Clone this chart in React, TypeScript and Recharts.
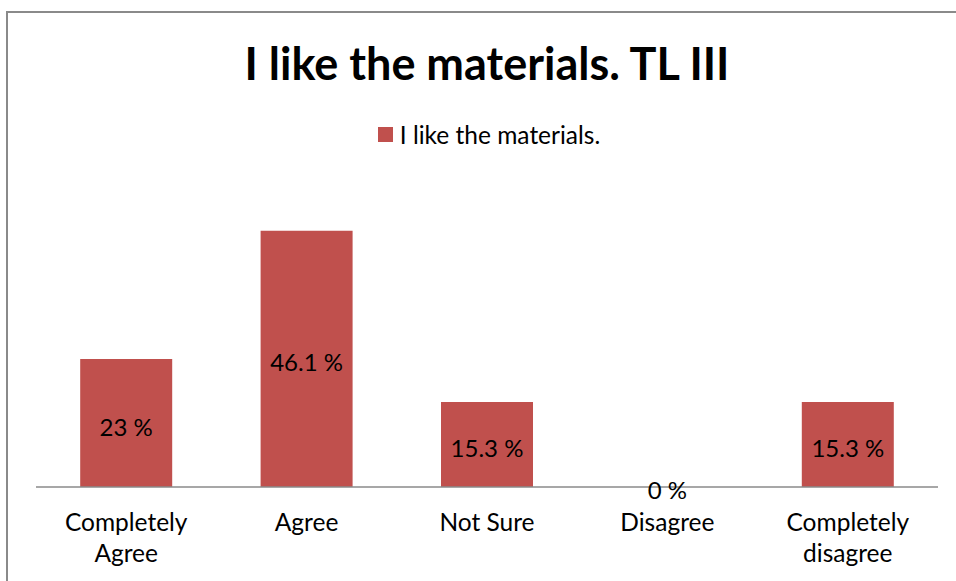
import React from 'react';
import { BarChart, Bar, XAxis, YAxis, LabelList, Legend } from 'recharts';

const TITLE = 'I like the materials. TL III';
const SERIES_NAME = 'I like the materials.';
const CATEGORIES = ['Completely\nAgree', 'Agree', 'Not Sure', 'Disagree', 'Completely\ndisagree'];
const VALUES = [23, 46.1, 15.3, 0, 15.3];
const Y_DOMAIN = [0, 50];

const FONT = 'Lato, "Open Sans", sans-serif';
const BAR_COLOR = '#c0504d';

const data = CATEGORIES.map((category, i) => ({ category, value: VALUES[i] }));

const CategoryTick = (props: any) => {
  const { x, y, payload } = props;
  const lines = String(payload.value).split('\n');
  return (
    <text x={x} y={y} textAnchor="middle" fontSize={24.5} fill="#000" fontFamily={FONT}>
      {lines.map((line, i) => (
        <tspan key={i} x={x} dy={i === 0 ? 44 : 31}>{line}</tspan>
      ))}
    </text>
  );
};

// centred value label, also drawn for the empty (0 %) bar
const ValueLabel = (props: any) => {
  const { x, y, width, height, value } = props;
  if (value == null) return null;
  return (
    <text x={x + width / 2} y={y + height / 2 + 3} textAnchor="middle" dominantBaseline="central"
      fontSize={24} fontFamily={FONT} fill="#000">
      {`${value} %`}
    </text>
  );
};

const LegendBox = () => (
  <div style={{ display: 'flex', justifyContent: 'center', alignItems: 'center', height: 30, paddingLeft: 22,
    fontFamily: FONT, fontSize: 24.5, color: '#000' }}>
    <span style={{ width: 15, height: 15, background: BAR_COLOR, marginRight: 7, display: 'inline-block' }} />
    <span>{SERIES_NAME}</span>
  </div>
);

export default function App() {
  return (
    <div style={{ position: 'absolute', left: 0, top: 0, width: 956, height: 581, overflow: 'hidden', background: '#fff' }}>
      <div style={{ position: 'absolute', left: 6, top: 11, width: 1000, height: 1000, border: '2px solid #8a8a8a' }} />
      <div style={{ position: 'absolute', left: 0, top: 0 }}>
        <BarChart width={956} height={581} data={data} margin={{ top: 179, right: 18, bottom: 34, left: 36 }} barCategoryGap="24.5%">
          <text x={487} y={80} textAnchor="middle" fontSize={45} fontWeight={700} fontFamily={FONT} fill="#000">{TITLE}</text>
          <Legend verticalAlign="top" content={<LegendBox />} wrapperStyle={{ position: 'absolute', top: 119, left: 0, width: 956 }} />
          <XAxis dataKey="category" height={60} tickLine={false} tickSize={0} tickMargin={0} interval={0}
            axisLine={{ stroke: '#8a8a8a', strokeWidth: 1.5 }} tick={<CategoryTick />} />
          <YAxis hide width={0} domain={Y_DOMAIN} />
          <Bar dataKey="value" name={SERIES_NAME} fill={BAR_COLOR} minPointSize={0.01} isAnimationActive={false}>
            <LabelList dataKey="value" content={<ValueLabel />} />
          </Bar>
        </BarChart>
      </div>
    </div>
  );
}
